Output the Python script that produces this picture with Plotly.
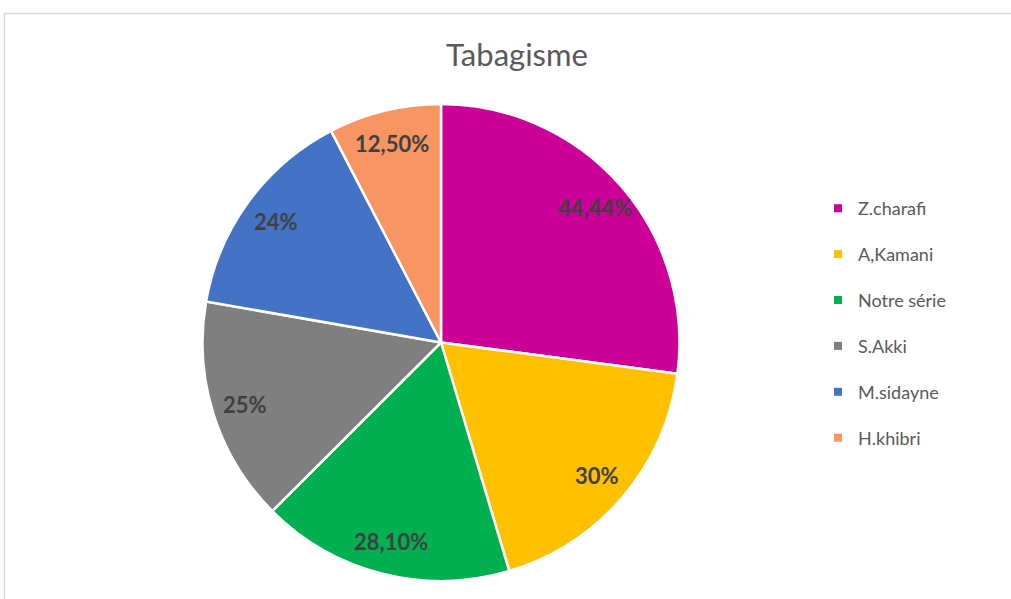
import math
import plotly.graph_objects as go

# Smoking prevalence reported by each series (%)
series = ["Z.charafi", "A,Kamani", "Notre série", "S.Akki", "M.sidayne", "H.khibri"]
values = [44.44, 30, 28.10, 25, 24, 12.50]
colors = ["#CC0099", "#FFC000", "#00B050", "#7F7F7F", "#4472C4", "#F79563"]


def fr_pct(v):
    # French decimal format: 44,44% / 30%
    if float(v).is_integer():
        return f"{int(v)}%"
    return f"{v:.2f}".replace(".", ",") + "%"


labels_txt = [fr_pct(v) for v in values]

W, H = 1011, 599
cx, cy, r = 441, 342.5, 238.5
domain = dict(x=[(cx - r) / W, (cx + r) / W], y=[(H - cy - r) / H, (H - cy + r) / H])

fig = go.Figure()
fig.add_trace(go.Pie(
    labels=series, values=values,
    textinfo="none",
    sort=False, direction="clockwise", rotation=0,
    marker=dict(colors=colors, line=dict(color="white", width=2.5)),
    showlegend=False, domain=domain,
    text=labels_txt, hoverinfo="label+text",
))

# Data labels at each slice's mid-angle, near the outer edge
total = sum(values)
label_r = 0.86 * r
annotations = []
cum = 0.0
for v, t in zip(values, labels_txt):
    mid = (cum + v / 2) / total * 2 * math.pi  # clockwise from 12 o'clock
    cum += v
    px = cx + label_r * math.sin(mid)
    py = cy - label_r * math.cos(mid)
    annotations.append(dict(
        x=px / W, y=1 - py / H, xref="paper", yref="paper",
        text=t, showarrow=False, xanchor="center", yanchor="middle",
        font=dict(family="Lato", size=22, color="#404040", weight="bold"),
    ))

# Legend entries with small square keys
for i, (name, c) in enumerate(zip(series, colors)):
    fig.add_trace(go.Scatter(
        x=[None], y=[None], mode="markers", name=name,
        marker=dict(symbol="square", size=8, color=c),
        legendgroup=f"g{i}", showlegend=True,
    ))

fig.update_layout(
    width=W, height=H,
    margin=dict(l=0, r=0, t=0, b=0),
    paper_bgcolor="white", plot_bgcolor="white",
    xaxis=dict(visible=False), yaxis=dict(visible=False),
    title=dict(text="Tabagisme", x=517 / W, y=1 - 55 / H, xanchor="center", yanchor="middle",
               font=dict(family="Lato", size=31, color="#595959")),
    legend=dict(x=818 / W, y=1 - 190 / H, xanchor="left", yanchor="top",
                font=dict(family="Lato", size=18, color="#595959"),
                tracegroupgap=19.5, itemsizing="trace", bgcolor="rgba(0,0,0,0)"),
    annotations=annotations,
    shapes=[dict(type="rect", xref="paper", yref="paper",
                 x0=4.5 / W, x1=1.05, y0=-0.05, y1=1 - 13.5 / H,
                 line=dict(color="#D9D9D9", width=1.5), fillcolor="rgba(0,0,0,0)", layer="below")],
)

fig.write_html("out.html")
